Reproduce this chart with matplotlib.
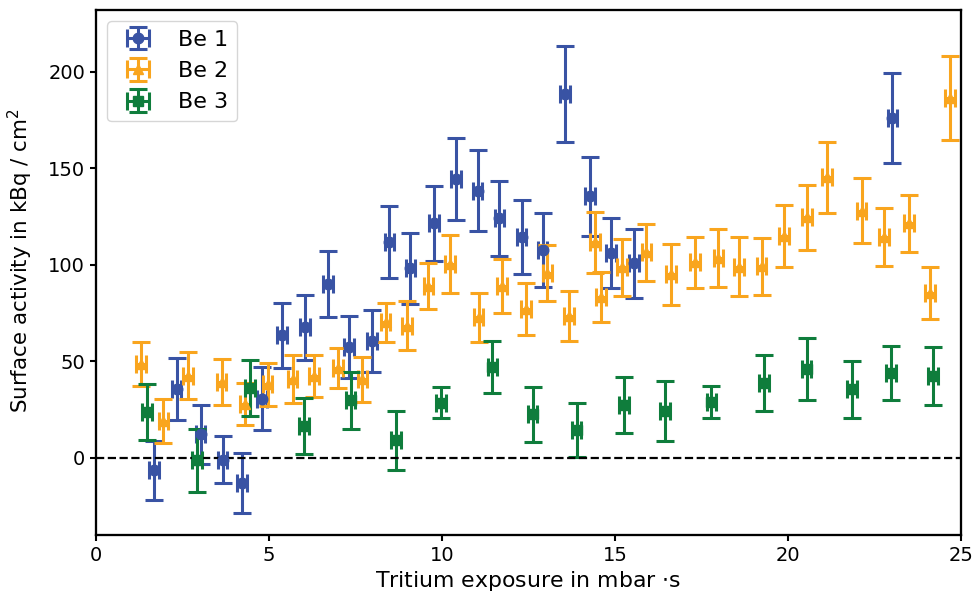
import numpy as np
import matplotlib
matplotlib.use("Agg")
import matplotlib.pyplot as plt

# Be 1 (blue circles)
x1 = [1.68, 2.33, 3.02, 3.66, 4.21, 4.80, 5.38, 6.04, 6.70, 7.32, 7.97, 8.48,
      9.09, 9.77, 10.41, 11.03, 11.66, 12.30, 12.91, 13.55, 14.28, 14.88, 15.55, 23.02]
y1 = [-6.4, 35.9, 12.3, -0.9, -13.1, 30.8, 63.6, 67.6, 90.1, 57.6, 60.7, 112.0,
      98.2, 121.7, 144.5, 138.5, 124.1, 114.6, 107.7, 188.6, 135.5, 106.0, 100.8, 176.0]
e1 = [15.3, 16.0, 15.3, 12.3, 15.5, 16.3, 16.8, 17.0, 17.1, 16.1, 16.2, 18.6,
      18.5, 19.4, 21.3, 20.9, 19.4, 19.1, 19.2, 24.8, 20.3, 18.1, 17.8, 23.3]

# Be 2 (orange triangles)
x2 = [1.29, 1.95, 2.66, 3.63, 4.31, 4.96, 5.68, 6.31, 7.00, 7.70, 8.37, 8.98,
      9.61, 10.23, 11.06, 11.74, 12.43, 13.05, 13.68, 14.42, 14.60, 15.21, 15.91,
      16.62, 17.32, 17.99, 18.59, 19.24, 19.89, 20.56, 21.13, 22.13, 22.78, 23.50,
      24.11, 24.68]
y2 = [48.6, 19.2, 42.5, 39.4, 27.8, 38.2, 40.8, 42.5, 46.8, 40.8, 70.2, 68.5,
      89.2, 100.5, 72.8, 89.2, 77.1, 95.8, 73.6, 111.7, 83.5, 98.7, 106.5,
      95.3, 101.3, 103.6, 99.1, 99.2, 115.1, 124.6, 145.4, 128.1, 114.6, 121.5,
      85.4, 186.6]
e2 = [11.5, 11.2, 12.2, 11.9, 10.9, 11.1, 12.3, 11.0, 10.4, 11.7, 10.0, 12.8,
      12.0, 14.8, 12.8, 14.0, 13.6, 14.5, 12.9, 15.8, 13.0, 14.7, 14.6,
      15.8, 13.0, 15.0, 15.3, 15.0, 16.0, 16.9, 18.4, 16.9, 15.1, 14.8,
      13.5, 21.7]

# Be 3 (green squares)
x3 = [1.48, 2.91, 4.45, 6.02, 7.36, 8.67, 9.98, 11.46, 12.62, 13.89, 15.26,
      16.45, 17.79, 19.31, 20.54, 21.85, 22.98, 24.20]
y3 = [23.9, -1.2, 36.5, 16.6, 29.9, 9.2, 28.7, 47.2, 22.7, 14.4, 27.3,
      24.4, 29.0, 39.1, 46.0, 35.6, 44.2, 42.5]
e3 = [14.4, 16.4, 14.5, 14.3, 14.8, 15.3, 8.0, 13.4, 14.3, 14.0, 14.5,
      15.4, 8.2, 14.5, 15.9, 14.7, 14.0, 15.0]

x_unc = 0.14  # x uncertainty, same for all points

fig = plt.figure(figsize=(9.75, 5.96), dpi=100)
ax = fig.add_subplot(111)
fig.subplots_adjust(left=0.0985, right=0.9855, top=0.983, bottom=0.102)

style = dict(linestyle='none', markersize=7.6, elinewidth=2.2, capsize=6.5, capthick=2.2)
ax.errorbar(x1, y1, yerr=e1, xerr=x_unc, fmt='o', color='#3953A4', label='Be 1', **style)
ax.errorbar(x2, y2, yerr=e2, xerr=x_unc, fmt='^', color='#F9A51E', label='Be 2', **style)
ax.errorbar(x3, y3, yerr=e3, xerr=x_unc, fmt='s', color='#0F7D3C', label='Be 3', **style)

ax.axhline(0, color='k', linestyle='--', linewidth=1.6)

ax.set_xlim(0, 25)
ax.set_ylim(-40, 232)
ax.set_yticks([0, 50, 100, 150, 200])
ax.set_xticks([0, 5, 10, 15, 20, 25])
ax.tick_params(labelsize=14, length=4.3, width=1.5)
for sp in ax.spines.values():
    sp.set_linewidth(1.65)

ax.set_xlabel(r'Tritium exposure in mbar $\cdot$s', fontsize=15.8, labelpad=3)
ax.set_ylabel(r'Surface activity in kBq / cm$^2$', fontsize=15.4)
ax.yaxis.set_label_coords(-0.071, 0.522)

ax.legend(loc='upper left', fontsize=16)

fig.savefig('out.png', dpi=100)
